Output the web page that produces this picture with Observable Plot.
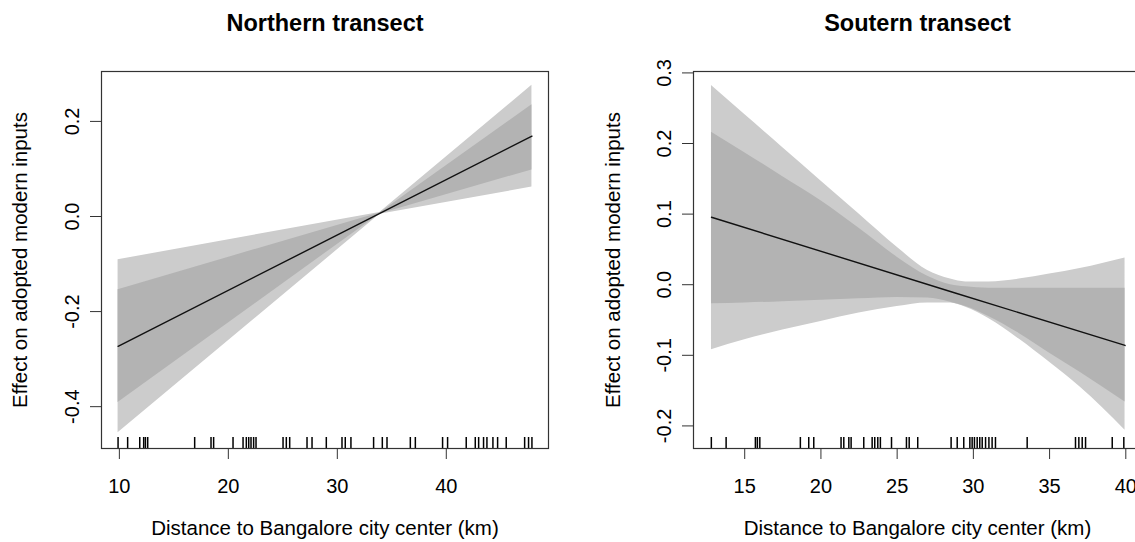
<!DOCTYPE html>
<html><head><meta charset="utf-8">
<script src="https://cdn.jsdelivr.net/npm/d3@7"></script>
<script src="https://cdn.jsdelivr.net/npm/@observablehq/plot@0.6"></script>
<style>
html,body{margin:0;padding:0;overflow:hidden;background:#fff;width:1135px;height:542px;}
#left{position:absolute;left:0;top:0;width:567px;height:542px;}
#right{position:absolute;left:567px;top:0;width:600px;height:542px;}
#left svg,#right svg{max-width:none !important;}
</style></head><body>
<div id="left"></div><div id="right"></div>
<script>
// ---------- Northern transect ----------
const northTitle = "Northern transect";
const northX      = [9.88, 33.9, 47.86];
const northFit    = [-0.273, 0.0065, 0.169];
const northInLo   = [-0.391, 0.0055, 0.098];
const northInHi   = [-0.154, 0.0075, 0.235];
const northOutLo  = [-0.455, 0.0045, 0.062];
const northOutHi  = [-0.091, 0.0085, 0.276];
const northRug = [9.88, 10.76, 11.87, 12.23, 12.39, 12.6, 16.91, 18.41, 18.65, 20.43, 21.35, 21.65, 21.87,
  22.08, 22.32, 22.54, 25.02, 25.32, 25.63, 27.22, 27.68, 28.99, 30.43, 30.73, 31.25, 33.33, 34.13, 34.56,
  36.7, 37.16, 39.66, 40.12, 41.83, 42.66, 42.97, 43.42, 43.73, 44.28, 44.71, 45.5, 47.19, 47.55, 47.86];
const northTicksX = [10, 20, 30, 40];
const northTicksY = [-0.4, -0.2, 0.0, 0.2];

// ---------- Southern transect ----------
const southTitle = "Soutern transect";
const southX     = [12.82, 15, 17.5, 20, 22.5, 25, 27, 28.5, 29.5, 31, 33, 35, 37, 39.95];
const southOutHi = [0.282, 0.241, 0.194, 0.147, 0.100, 0.053, 0.020, 0.008, 0.004, 0.004, 0.008, 0.015, 0.023, 0.038];
const southInHi  = [0.216, 0.187, 0.153, 0.119, 0.080, 0.039, 0.012, 0.000, -0.003, -0.005, -0.005, -0.005, -0.005, -0.005];
const southInLo  = [-0.027, -0.026, -0.024, -0.022, -0.020, -0.018, -0.019, -0.025, -0.031, -0.045, -0.069, -0.097, -0.124, -0.166];
const southOutLo = [-0.092, -0.078, -0.064, -0.052, -0.040, -0.031, -0.026, -0.026, -0.032, -0.048, -0.077, -0.110, -0.145, -0.206];
const southFitX  = [12.82, 28.7, 39.95];
const southFit   = [0.0955, -0.011, -0.086];
const southRug = [12.81, 13.78, 15.70, 15.83, 15.99, 18.65, 19.20, 19.53, 21.32, 21.50, 21.83, 21.98, 22.81,
  23.36, 23.53, 23.73, 23.90, 24.63, 25.61, 25.79, 26.35, 28.54, 28.94, 29.37, 29.77, 29.92, 30.07, 30.25,
  30.42, 30.58, 30.80, 31.02, 31.23, 31.45, 33.53, 36.70, 36.92, 37.14, 37.36, 39.11, 39.87];
const southTicksX = [15, 20, 25, 30, 35, 40];
const southTicksY = [-0.2, -0.1, 0.0, 0.1, 0.2, 0.3];

const xLabel = "Distance to Bangalore city center (km)";
const yLabel = "Effect on adopted modern inputs";

const FONT = "'Liberation Sans', Arial, sans-serif";
const OUTER = "#cccccc", INNER = "#b3b3b3";

function panel({title, xs, outLo, outHi, inLo, inHi, fitX, fit, rug, ticksX, ticksY,
                xDomain, yDomain, width, marginLeft, marginRight, ylabDx, curve}) {
  const band = xs.map((x, i) => ({x, outLo: outLo[i], outHi: outHi[i], inLo: inLo[i], inHi: inHi[i]}));
  const line = fitX.map((x, i) => ({x, y: fit[i]}));
  const frameH = 542 - 71 - 94;
  const svg = Plot.plot({
    width, height: 542,
    marginLeft, marginRight, marginTop: 71, marginBottom: 94,
    style: {fontFamily: FONT, fontSize: "20px", background: "transparent", overflow: "visible", color: "#000", maxWidth: "none"},
    x: {domain: xDomain},
    y: {domain: yDomain},
    marks: [
      Plot.areaY(band, {x: "x", y1: "outLo", y2: "outHi", fill: OUTER, curve}),
      Plot.areaY(band, {x: "x", y1: "inLo", y2: "inHi", fill: INNER, curve}),
      Plot.lineY(line, {x: "x", y: "y", stroke: "#111", strokeWidth: 1.4}),
      Plot.ruleX(rug, {x: d => d, insetTop: frameH - 11, stroke: "#000", strokeWidth: 1.5}),
      Plot.frame({stroke: "#333", strokeWidth: 1.2}),
      Plot.axisX({ticks: ticksX, tickSize: 11, tickPadding: 19, fontSize: 20, label: null,
                  tickFormat: d => String(d), stroke: "#333"}),
      Plot.axisY({ticks: ticksY, tickSize: 11, tickPadding: 12, tickRotate: -90, fontSize: 20, label: null,
                  tickFormat: d => d.toFixed(1), stroke: "#333"}),
      Plot.text([title], {frameAnchor: "top", dy: -41, lineAnchor: "bottom", textAnchor: "middle", fontSize: 23.5, fontWeight: "bold"}),
      Plot.text([xLabel], {frameAnchor: "bottom", dy: 86, lineAnchor: "bottom", textAnchor: "middle", fontSize: 20.5}),
      Plot.text([yLabel], {frameAnchor: "left", dx: ylabDx, rotate: -90, lineAnchor: "bottom", textAnchor: "middle", fontSize: 20.5})
    ]
  });
  svg.style.maxWidth = "none";
  svg.setAttribute("width", width);
  return svg;
}

document.getElementById("left").appendChild(panel({
  title: northTitle, xs: northX, outLo: northOutLo, outHi: northOutHi, inLo: northInLo, inHi: northInHi,
  fitX: northX, fit: northFit, rug: northRug, ticksX: northTicksX, ticksY: northTicksY,
  xDomain: [8.36, 49.38], yDomain: [-0.488, 0.305], width: 567, marginLeft: 101, marginRight: 19, ylabDx: -75,
  curve: "linear"
}));

document.getElementById("right").appendChild(panel({
  title: southTitle, xs: southX, outLo: southOutLo, outHi: southOutHi, inLo: southInLo, inHi: southInHi,
  fitX: southFitX, fit: southFit, rug: southRug, ticksX: southTicksX, ticksY: southTicksY,
  xDomain: [11.64, 41.03], yDomain: [-0.232, 0.302], width: 600, marginLeft: 126, marginRight: 26, ylabDx: -73.5,
  curve: "monotone-x"
}));
</script>
</body></html>
